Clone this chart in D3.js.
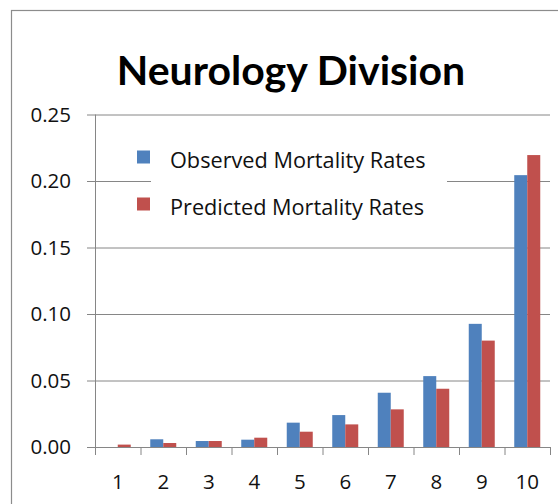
<!DOCTYPE html>
<html lang="en">
<head>
<meta charset="UTF-8">
<title>Neurology Division</title>
<script src="https://d3js.org/d3.v7.min.js"></script>
<style>
body { margin: 0; background: white; }
svg text { font-family: "Open Sans", Lato, sans-serif; }
</style>
</head>
<body>
<div id="chart"></div>
<script>
// data
var categories = ["1", "2", "3", "4", "5", "6", "7", "8", "9", "10"];
var observed  = [0.0, 0.0058, 0.0045, 0.0055, 0.0183, 0.024, 0.0408, 0.0533, 0.0926, 0.2044];
var predicted = [0.0018, 0.003, 0.0045, 0.007, 0.0115, 0.017, 0.0283, 0.0438, 0.080, 0.2195];
var yTicks = [0, 0.05, 0.10, 0.15, 0.20, 0.25];
var seriesNames = ["Observed Mortality Rates", "Predicted Mortality Rates"];
var colors = ["#4F81BD", "#C0504D"];

var W = 558, H = 504;
var margin = {top: 114.5, right: 8, bottom: 57, left: 95};
var width = W - margin.left - margin.right,
    height = H - margin.top - margin.bottom;

var svg = d3.select("#chart").append("svg")
    .attr("width", W)
    .attr("height", H);

// outer chart frame (runs off the right and bottom edge)
svg.append("rect")
    .attr("x", 11.5).attr("y", 10.5)
    .attr("width", 600).attr("height", 600)
    .attr("fill", "white")
    .attr("stroke", "#8c8c8c")
    .attr("stroke-width", 1.2);

svg.append("text")
    .attr("x", 291).attr("y", 85)
    .attr("text-anchor", "middle")
    .style("font-family", "Lato, sans-serif")
    .style("font-size", "41px")
    .style("font-weight", "bold")
    .text("Neurology Division");

var g = svg.append("g")
    .attr("transform", "translate(" + margin.left + "," + margin.top + ")");

var x = d3.scaleBand().domain(categories).range([0, width]).padding(0);
var barW = x.bandwidth() / 3.5;
var x1 = d3.scaleBand().domain([0, 1])
    .range([x.bandwidth() * 0.75 / 3.5, x.bandwidth() * 2.75 / 3.5]);

var y = d3.scaleLinear().domain([0, 0.25]).range([height, 0]);

// y axis + gridlines
var yAxis = g.append("g")
    .call(d3.axisLeft(y).tickValues(yTicks).tickFormat(d3.format(".2f"))
      .tickSize(8).tickPadding(16));
yAxis.select(".domain").remove();
yAxis.selectAll("text").style("font-size", "20.5px").attr("fill", "#111");
yAxis.selectAll(".tick line").attr("stroke", "#868686");

g.append("g")
  .selectAll("line")
  .data(yTicks.filter(function(d) { return d > 0; }))
  .join("line")
    .attr("x1", 0).attr("x2", width)
    .attr("y1", function(d) { return y(d) + 0.5; })
    .attr("y2", function(d) { return y(d) + 0.5; })
    .attr("stroke", "#868686");

g.append("line")
    .attr("x1", 0.5).attr("x2", 0.5)
    .attr("y1", 0).attr("y2", height)
    .attr("stroke", "#868686");

// bars
var rows = categories.map(function(c, i) { return {cat: c, vals: [observed[i], predicted[i]]}; });
g.append("g").selectAll("g")
  .data(rows)
  .join("g")
    .attr("transform", function(d) { return "translate(" + x(d.cat) + ",0)"; })
  .selectAll("rect")
  .data(function(d) { return d.vals.map(function(v, k) { return {k: k, v: v}; }); })
  .join("rect")
    .attr("x", function(d) { return x1(d.k); })
    .attr("width", barW)
    .attr("y", function(d) { return y(d.v); })
    .attr("height", function(d) { return height - y(d.v); })
    .attr("fill", function(d) { return colors[d.k]; });

// x axis with ticks between categories
var xb = g.append("g").attr("transform", "translate(0," + height + ")");
xb.append("line")
    .attr("x1", 0).attr("x2", width)
    .attr("y1", 0.5).attr("y2", 0.5)
    .attr("stroke", "#868686");
var bounds = categories.map(function(c) { return x(c); }).concat([width]);
xb.selectAll("line.tk")
  .data(bounds)
  .join("line")
    .attr("class", "tk")
    .attr("x1", function(d) { return d + 0.5; })
    .attr("x2", function(d) { return d + 0.5; })
    .attr("y1", 0).attr("y2", 8)
    .attr("stroke", "#868686");
xb.selectAll("text")
  .data(categories)
  .join("text")
    .attr("x", function(d) { return x(d) + x.bandwidth() / 2; })
    .attr("y", 35)
    .attr("dy", "0.35em")
    .attr("text-anchor", "middle")
    .attr("fill", "#111")
    .style("font-size", "20.5px")
    .text(function(d) { return d; });

// legend
var leg = svg.append("g");
leg.append("rect")
    .attr("x", 151).attr("y", 135)
    .attr("width", 296).attr("height", 92)
    .attr("fill", "white");
seriesNames.forEach(function(name, i) {
  var cy = 157 + i * 47;
  leg.append("rect")
      .attr("x", 137).attr("y", cy - 6.5)
      .attr("width", 13).attr("height", 13)
      .attr("fill", colors[i]);
  leg.append("text")
      .attr("x", 170).attr("y", cy + 3)
      .attr("dy", "0.35em")
      .attr("fill", "#111")
      .style("font-size", "21.7px")
      .text(name);
});
</script>
</body>
</html>
